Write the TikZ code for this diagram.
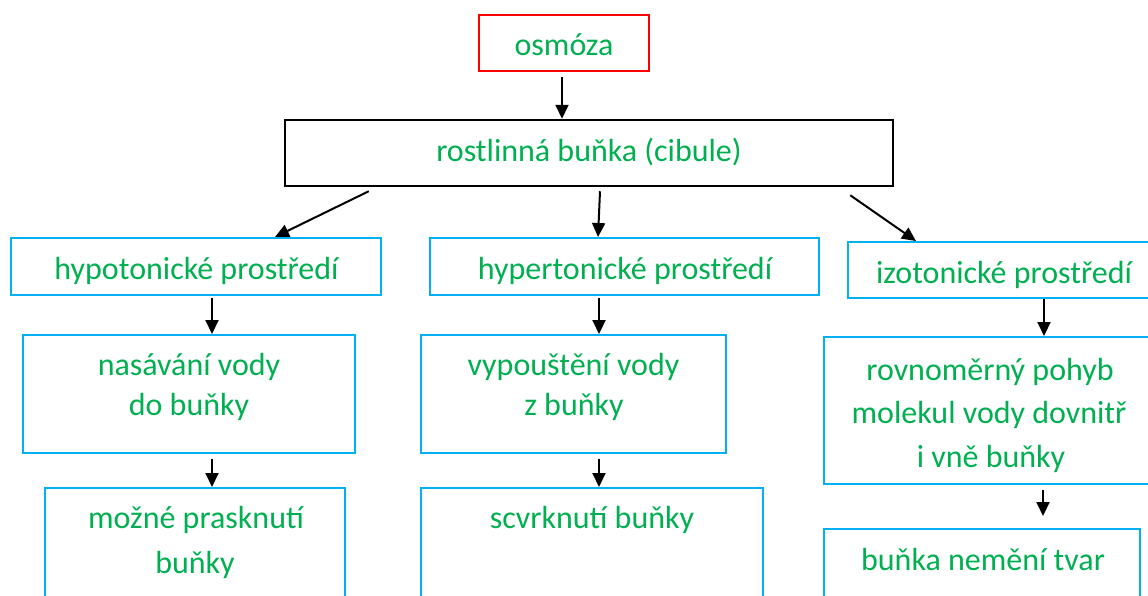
\documentclass[tikz,border=0pt]{standalone}
\usepackage{fontspec}
\setmainfont{Carlito}
\usetikzlibrary{arrows.meta}
\definecolor{tgreen}{HTML}{00B050}
\definecolor{bblue}{HTML}{00B0F0}
\definecolor{rred}{HTML}{FF0000}
\tikzset{
  box/.style={draw=bblue, line width=2pt, rectangle, inner sep=0pt},
  txt/.style={text=tgreen, anchor=base, inner sep=0pt, font=\fontsize{32}{38}\selectfont},
  arr/.style={draw=black, line width=2pt, -{Triangle[length=14pt,width=13pt]}},
}
\begin{document}
\begin{tikzpicture}[x=1pt,y=-1pt]
\useasboundingbox (0,0) rectangle (1148,595);
\clip (0,0) rectangle (1148,595);
% boxes
\node[box, draw=rred, minimum width=170pt, minimum height=56pt] (osm) at (564,43) {};
\node[box, draw=black, line width=2.5pt, minimum width=608pt, minimum height=66pt] (rost) at (589,153) {};
\node[box, minimum width=370pt, minimum height=57pt] (hypo) at (196,266.5) {};
\node[box, minimum width=389pt, minimum height=57pt] (hyper) at (624.5,266.5) {};
\node[box, minimum width=302pt, minimum height=56pt] (iso) at (999,270) {};
\node[box, minimum width=332pt, minimum height=118pt] (nas) at (189,394) {};
\node[box, minimum width=305pt, minimum height=118pt] (vyp) at (573.5,394) {};
\node[box, minimum width=326pt, minimum height=147pt] (rov) at (987,410.5) {};
\node[box, minimum width=300pt, minimum height=162pt] (moz) at (195,569) {};
\node[box, minimum width=342pt, minimum height=162pt] (scv) at (592,569) {};
\node[box, minimum width=316pt, minimum height=162pt] (bun) at (982,610) {};
% texts
\node[txt] (t-osm) at (564,55) {osmóza};
\node[txt] (t-rost) at (589,161) {rostlinná buňka (cibule)};
\node[txt] (t-hypo) at (196.5,279) {hypotonické prostředí};
\node[txt] (t-hyper) at (625,279) {hypertonické prostředí};
\node[txt] (t-iso) at (1004,283) {izotonické prostředí};
\node[txt] (t-nas1) at (189,375) {nasávání vody};
\node[txt] (t-nas2) at (189,415) {do buňky};
\node[txt] (t-vyp1) at (573.5,375) {vypouštění vody};
\node[txt] (t-vyp2) at (574,415) {z buňky};
\node[txt] (t-rov1) at (990,380) {rovnoměrný pohyb};
\node[txt] (t-rov2) at (989,423) {molekul vody dovnitř};
\node[txt] (t-rov3) at (991,467) {i vně buňky};
\node[txt] (t-moz1) at (196,528) {možné prasknutí};
\node[txt] (t-moz2) at (195,573) {buňky};
\node[txt] (t-scv) at (592,528) {scvrknutí buňky};
\node[txt] (t-bun) at (983,570) {buňka nemění tvar};
% connectors
\draw[arr] ([xshift=-2pt,yshift=-5pt]osm.south) -- ([xshift=-2pt]osm.south |- rost.north);
\draw[arr] ([xshift=85pt,yshift=-4pt]rost.south west) -- ([xshift=79pt]hypo.north);
\draw[arr] ([xshift=11pt,yshift=-4pt]rost.south) -- ([xshift=-26.5pt]hyper.north);
\draw[arr] ([xshift=-44pt,yshift=-8pt]rost.south east) -- ([xshift=69pt]iso.north west);
\draw[arr] ([xshift=16pt,yshift=-2pt]hypo.south) -- ([xshift=16pt]hypo.south |- nas.north);
\draw[arr] ([xshift=-25.5pt,yshift=-2pt]hyper.south) -- ([xshift=-25.5pt]hyper.south |- vyp.north);
\draw[arr] ([xshift=45pt,yshift=0pt]iso.south) -- ([xshift=45pt]iso.south |- rov.north);
\draw[arr] ([xshift=23pt,yshift=-5pt]nas.south) -- ([xshift=23pt]nas.south |- moz.north);
\draw[arr] ([xshift=25.5pt,yshift=-5pt]vyp.south) -- ([xshift=25.5pt]vyp.south |- scv.north);
\draw[arr] ([xshift=56pt,yshift=-5pt]rov.south) -- ([xshift=61pt,yshift=12pt]bun.north);
\end{tikzpicture}
\end{document}
